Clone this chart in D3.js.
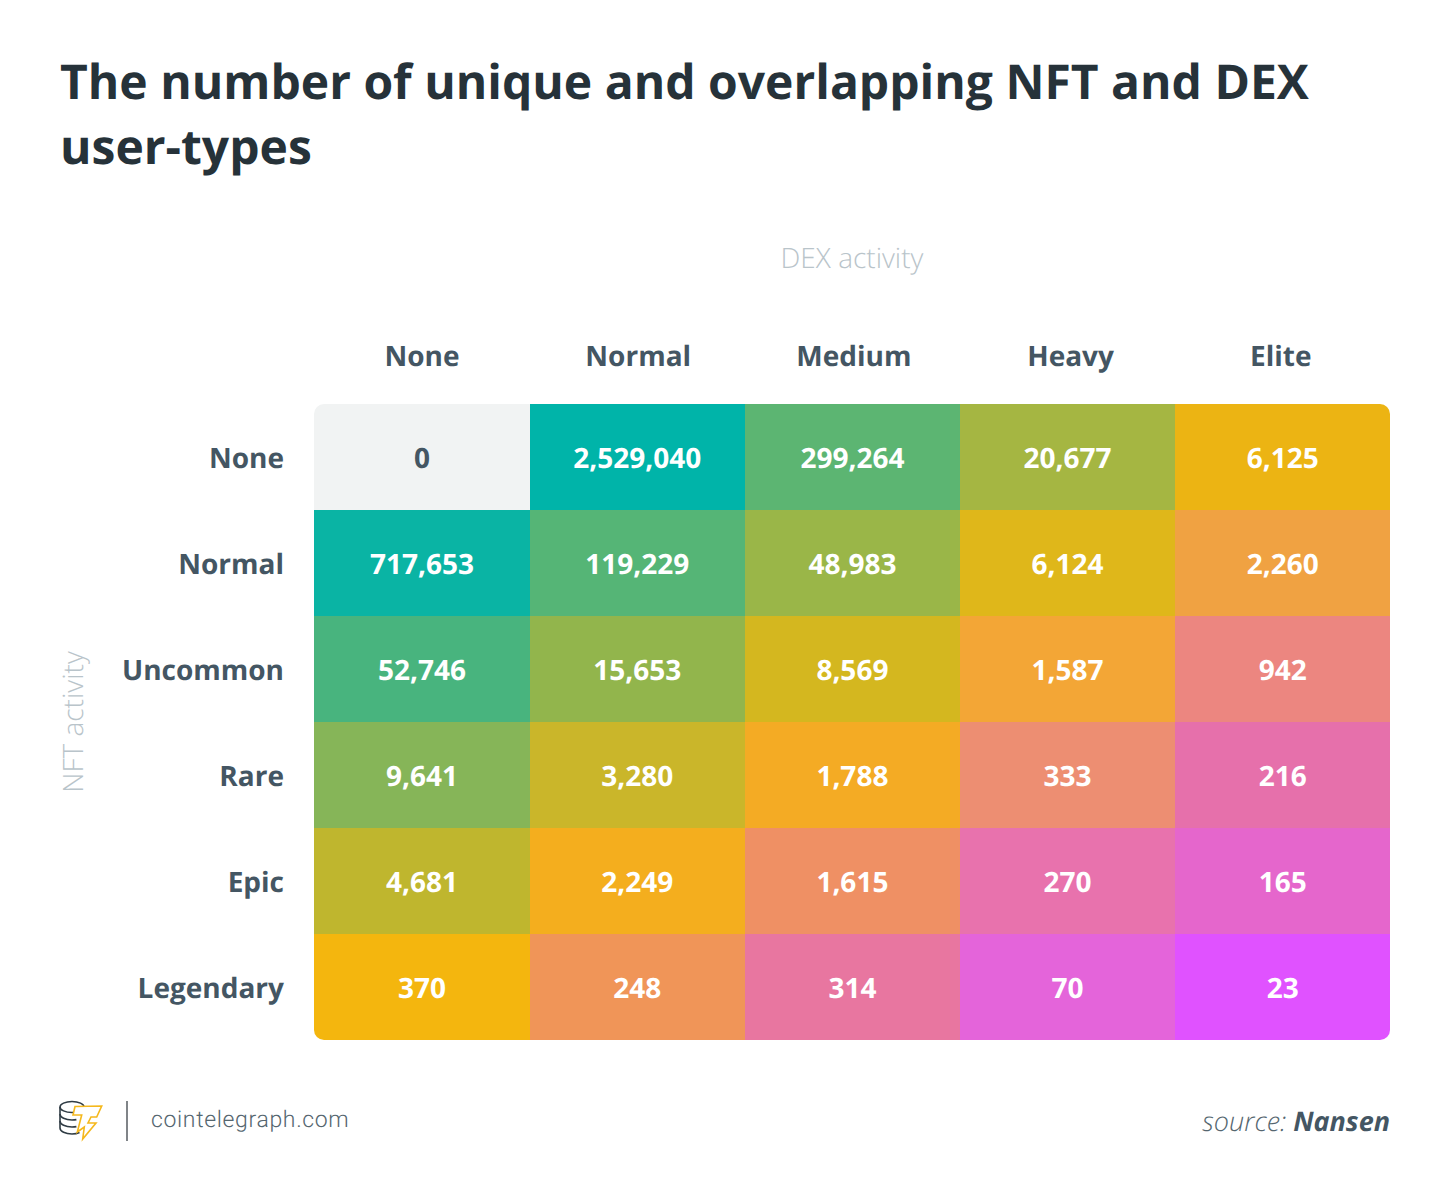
<!DOCTYPE html>
<html lang="en">
  <head>
    <meta charset="UTF-8" />
    <title>NFT and DEX user-types</title>
    <style>
      html, body { margin: 0; padding: 0; background: #fff; }
      svg { display: block; font-family: "Open Sans", sans-serif; text-rendering: geometricPrecision; }
    </style>
  </head>
  <body>
    <svg id="chart" width="1450" height="1201"></svg>
    <script src="https://cdn.jsdelivr.net/npm/d3@7/dist/d3.min.js"></script>
    <script>
      const dexLevels = ["None", "Normal", "Medium", "Heavy", "Elite"];
      const nftLevels = ["None", "Normal", "Uncommon", "Rare", "Epic", "Legendary"];
      const userCounts = [
        [0, 2529040, 299264, 20677, 6125],
        [717653, 119229, 48983, 6124, 2260],
        [52746, 15653, 8569, 1587, 942],
        [9641, 3280, 1788, 333, 216],
        [4681, 2249, 1615, 270, 165],
        [370, 248, 314, 70, 23],
      ];
      // cell fills, same order as userCounts
      const palette = [
        "#f1f3f3", "#00b4a9", "#5cb572", "#a5b642", "#ecb413",
        "#0ab4a4", "#55b576", "#9ab648", "#dfb71a", "#f0a242",
        "#48b47e", "#92b54c", "#d4b71f", "#f3a636", "#ec8680",
        "#86b558", "#cab62a", "#f4ab24", "#ed8e72", "#e670ab",
        "#bfb62e", "#f4ae1e", "#ef9064", "#e872ad", "#e566cc",
        "#f4b60e", "#f09558", "#e876a0", "#e464da", "#e052ff",
      ];

      const cells = userCounts.flatMap((row, r) =>
        row.map((value, c) => ({ nft: nftLevels[r], dex: dexLevels[c], value }))
      );

      const svg = d3.select("#chart");
      const x = d3.scaleBand().domain(dexLevels).range([314.4, 1390.4]);
      const y = d3.scaleBand().domain(nftLevels).range([404, 1040]);
      const color = d3.scaleOrdinal().domain(cells.map((d) => d.value)).range(palette);
      const fmt = d3.format(",");

      const dark = "#263239";
      const slate = "#445663";
      const faint = "#b9c4ca";

      // title
      svg.append("text").attr("x", 60).attr("y", 99)
        .attr("font-size", 48).attr("font-weight", 700).attr("fill", dark)
        .text("The number of unique and overlapping NFT and DEX");
      svg.append("text").attr("x", 60).attr("y", 164)
        .attr("font-size", 48).attr("font-weight", 700).attr("fill", dark)
        .text("user-types");

      // axis titles
      svg.append("text").attr("x", 852).attr("y", 268)
        .attr("text-anchor", "middle").attr("font-size", 28).attr("font-weight", 300)
        .attr("fill", faint).text("DEX activity");
      svg.append("text")
        .attr("transform", "translate(83,722) rotate(-90)")
        .attr("text-anchor", "middle").attr("font-size", 28).attr("font-weight", 300)
        .attr("fill", faint).text("NFT activity");

      // heatmap
      svg.append("clipPath").attr("id", "round")
        .append("rect").attr("x", 314).attr("y", 404)
        .attr("width", 1076).attr("height", 636).attr("rx", 10);

      svg.append("g").attr("clip-path", "url(#round)")
        .selectAll("rect").data(cells).join("rect")
        .attr("x", (d) => x(d.dex))
        .attr("y", (d) => y(d.nft))
        .attr("width", x.bandwidth())
        .attr("height", y.bandwidth())
        .attr("shape-rendering", "crispEdges")
        .attr("fill", (d) => color(d.value));

      svg.append("g").selectAll("text").data(cells).join("text")
        .attr("x", (d) => x(d.dex) + x.bandwidth() / 2)
        .attr("y", (d) => y(d.nft) + y.bandwidth() / 2 + 11)
        .attr("text-anchor", "middle")
        .attr("font-size", 28).attr("font-weight", 700)
        .attr("fill", (d) => (d.value === 0 ? slate : "#fff"))
        .text((d) => fmt(d.value));

      // axes, drawn without lines
      const xAxis = svg.append("g").attr("transform", "translate(0,366)")
        .call(d3.axisTop(x).tickSize(0).tickPadding(0));
      const yAxis = svg.append("g").attr("transform", "translate(284,2)")
        .call(d3.axisLeft(y).tickSize(0).tickPadding(0));
      [xAxis, yAxis].forEach((axis) => {
        axis.select(".domain").remove();
        axis.selectAll("text")
          .attr("font-family", "'Open Sans', sans-serif")
          .attr("font-size", 28).attr("font-weight", 700).attr("fill", slate);
      });
      // the column heads sit a little off the cell centres in the original
      const headNudge = { None: 0, Normal: 1, Medium: 1.5, Heavy: 3, Elite: -2 };
      xAxis.selectAll("text").attr("dx", (d) => headNudge[d]);

      // footer
      const logo = svg.append("g").attr("fill", "none").attr("stroke-width", 1.6);
      const coins = logo.append("g").attr("stroke", "#2f3b44");
      coins.append("ellipse").attr("cx", 72).attr("cy", 1107).attr("rx", 12).attr("ry", 5.5);
      coins.append("path").attr("d", "M60 1107v21c0 3.500 5.500 6 12 6 3 0 5.500-.5 7.500-1.500");
      coins.append("path").attr("d", "M60 1114c0 3.500 5.500 6 12 6 1.600 0 3-.1 4.400-.4");
      coins.append("path").attr("d", "M60 1121c0 3.500 5.500 6 12 6 1.600 0 3-.1 4.400-.4");
      logo.append("path").attr("stroke", "#f5b81c").attr("fill", "#fff")
        .attr("d", "M75 1106.500L101.700 1106 96.700 1117H91L88 1123H96L82.700 1139 84.300 1127 77.300 1132 81.700 1115H73Z");

      svg.append("line").attr("x1", 127).attr("x2", 127).attr("y1", 1101).attr("y2", 1141)
        .attr("stroke", "#808488").attr("stroke-width", 2);

      svg.append("text").attr("x", 151).attr("y", 1127)
        .attr("font-family", "Roboto, sans-serif").attr("font-size", 23).attr("font-weight", 300)
        .attr("fill", "#55666f").attr("letter-spacing", 0.65).text("cointelegraph.com");

      const sourceNote = svg.append("text").attr("x", 1390).attr("y", 1131)
        .attr("text-anchor", "end").attr("font-size", 27).attr("font-style", "italic");
      sourceNote.append("tspan").attr("font-weight", 300).attr("fill", "#55666f").text("source: ");
      sourceNote.append("tspan").attr("font-weight", 700).attr("fill", slate).text("Nansen");
    </script>
  </body>
</html>
